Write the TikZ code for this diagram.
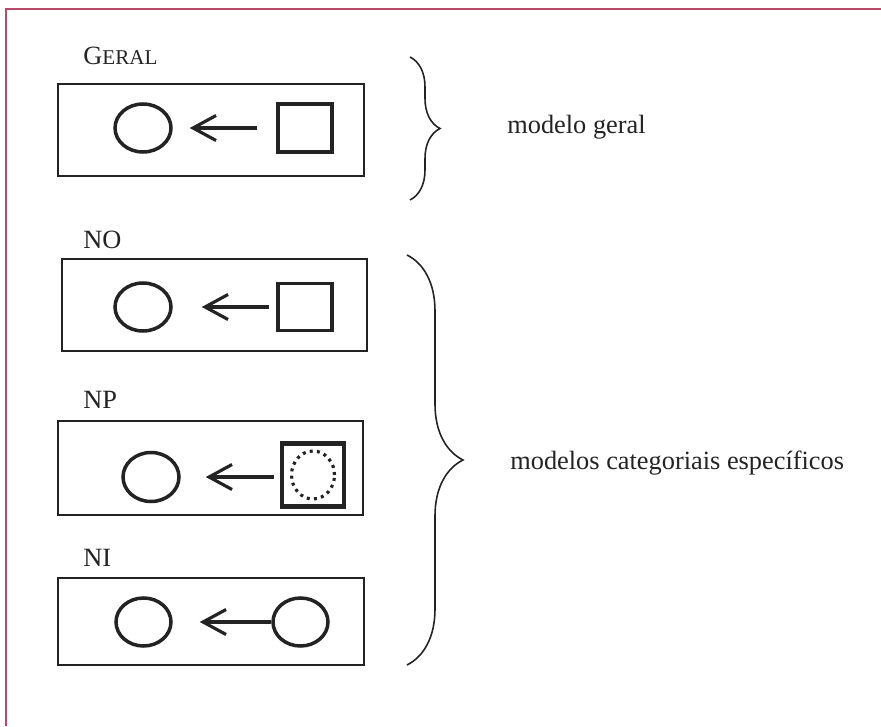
\documentclass[tikz,border=0pt]{standalone}
\usepackage{fontspec}
\setmainfont{Liberation Serif}
\usepackage{tikz}
\usetikzlibrary{arrows.meta,positioning}
\usetikzlibrary{shapes.geometric}
\usetikzlibrary{decorations.pathreplacing}

\definecolor{moldura}{RGB}{183,72,102}
\definecolor{traco}{RGB}{35,35,35}

\tikzstyle{modelo}=[draw=traco,line width=1.1pt,rectangle,minimum width=6.12cm,minimum height=1.84cm,inner sep=0pt]
\tikzstyle{alvo}=[draw=traco,line width=2pt,ellipse,minimum width=1.12cm,minimum height=0.96cm,inner sep=0pt]
\tikzstyle{fonte}=[draw=traco,line width=2pt,rectangle,minimum width=1.08cm,minimum height=0.96cm,inner sep=0pt]
\tikzstyle{seta}=[traco,line width=1.8pt,-{Straight Barb[length=0.46cm,width=0.5cm]}]
\tikzstyle{chave}=[traco,line width=0.9pt,decorate]
\tikzstyle{rotulo}=[anchor=base west,inner sep=0pt,text=traco]

\begin{document}
\begin{tikzpicture}[x=0.02cm,y=-0.02cm,font=\fontsize{15}{17}\selectfont]%
            \useasboundingbox (0,0) rectangle (881,726);
            \draw[moldura,line width=1.4pt] (6,726) -- (6,9) -- (881,9); %%
            %% caixas dos modelos
            \node[modelo] (mg) at (211,130) {}; %%
            \node[modelo,minimum width=6.10cm] (mo) at (214.5,305) {}; %%
            \node[modelo,minimum width=6.10cm,minimum height=1.88cm] (mp) at (210.5,468) {}; %%
            \node[modelo,minimum height=1.74cm] (mi) at (211,621.5) {}; %%
            \node[rotulo] (tg) at (83,65) {G{\fontsize{12}{14}\selectfont ERAL}}; %%
            \node[rotulo] (to) at (83,248) {NO}; %%
            \node[rotulo] (tp) at (83,408) {NP}; %%
            \node[rotulo] (ti) at (83,566) {NI}; %%
            %% figuras dentro das caixas
            \node[alvo] (cg) at (143,128) {}; %%
            \node[fonte] (qg) at (305,128) {}; %%
            \node[alvo] (co) at (143,307) {}; %%
            \node[fonte,minimum height=0.94cm] (qo) at (305,307) {}; %%
            \node[alvo,minimum height=0.98cm] (cp) at (151,477) {}; %%
            \node[fonte,line width=2.4pt,minimum width=1.24cm,minimum height=1.26cm] (qp) at (313,475) {}; %%
            \node[ellipse,draw=traco,line width=1.8pt,dash pattern=on 1.7pt off 2.4pt,minimum width=0.86cm,minimum height=0.96cm,inner sep=0pt] (dp) at (qp) {}; %%
            \node[alvo,minimum width=1.10cm] (ci) at (143.5,622) {}; %%
            \node[alvo,minimum width=1.10cm] (di) at (300.5,622) {}; %%
            \draw[seta,shorten <=0.38cm,shorten >=0.34cm] (qg) -- (cg); %%
            \draw[seta,shorten <=0.14cm,shorten >=0.58cm] (qo) -- (co); %%
            \draw[seta,shorten <=0.12cm,shorten >=0.50cm] (qp.west |- cp) -- (cp); %%
            \draw[seta,shorten >=0.54cm] (di) -- (ci); %%
            %% chaves e legendas
            \coordinate (g1) at (410,57); %%
            \coordinate (g2) at (410,200); %%
            \coordinate (e1) at (407,255); %%
            \coordinate (e2) at (407,665); %%
            \draw[chave,decoration={brace,amplitude=0.6cm}] (g1) -- (g2); %%
            \draw[chave,decoration={brace,amplitude=1.12cm}] (e1) -- (e2); %%
            \node[rotulo] (lg) at (507,133) {modelo geral}; %%
            \node[rotulo] (le) at (510,469) {modelos categoriais específicos}; %%
        \end{tikzpicture}
\end{document}
